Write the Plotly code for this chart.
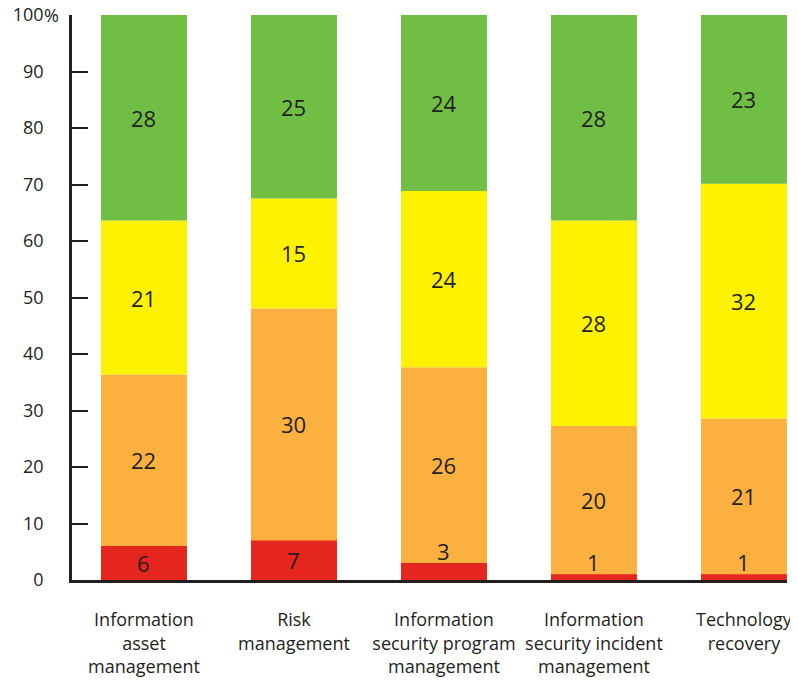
import plotly.graph_objects as go

categories = ["Information<br>asset<br>management", "Risk<br>management",
              "Information<br>security program<br>management",
              "Information<br>security incident<br>management", "Technology<br>recovery"]
red_vals = [6, 7, 3, 1, 1]
orange_vals = [22, 30, 26, 20, 21]
yellow_vals = [21, 15, 24, 28, 32]
green_vals = [28, 25, 24, 28, 23]
y_ticks = [0, 10, 20, 30, 40, 50, 60, 70, 80, 90, 100]
y_ticktext = ["0", "10", "20", "30", "40", "50", "60", "70", "80", "90", "100"]

RED, ORANGE, YELLOW, GREEN = "#e5261e", "#fbb040", "#fff200", "#70bf44"
INK = "#231f20"
FONT = "Open Sans"

n = len(categories)
totals = [red_vals[i] + orange_vals[i] + yellow_vals[i] + green_vals[i] for i in range(n)]
cum_orange = [(red_vals[i] + orange_vals[i]) / totals[i] * 100 for i in range(n)]
cum_yellow = [(red_vals[i] + orange_vals[i] + yellow_vals[i]) / totals[i] * 100 for i in range(n)]
green_pct = [100 - c for c in cum_yellow]
yellow_pct = [cum_yellow[i] - cum_orange[i] for i in range(n)]
# red segment as drawn in the source (count on the % scale, overlaid on orange)
red_h = red_vals

x = list(range(n))
fig = go.Figure()
bar_w = 0.573
fig.add_bar(x=x, y=cum_orange, base=[0] * n, marker_color=ORANGE, width=bar_w,
            marker_line_width=0, hoverinfo="skip")
fig.add_bar(x=x, y=yellow_pct, base=cum_orange, marker_color=YELLOW, width=bar_w,
            marker_line_width=0, hoverinfo="skip")
fig.add_bar(x=x, y=green_pct, base=cum_yellow, marker_color=GREEN, width=bar_w,
            marker_line_width=0, hoverinfo="skip")
fig.add_bar(x=x, y=red_h, base=[0] * n, marker_color=RED, width=bar_w,
            marker_line_width=0, hoverinfo="skip")

ann = []
lab_font = dict(family=FONT, size=22, color=INK)
for i in range(n):
    ann.append(dict(x=i, y=(cum_yellow[i] + 100) / 2, text=str(green_vals[i]),
                    showarrow=False, font=lab_font, xref="x", yref="y"))
    ann.append(dict(x=i, y=(cum_orange[i] + cum_yellow[i]) / 2, text=str(yellow_vals[i]),
                    showarrow=False, font=lab_font, xref="x", yref="y"))
    ann.append(dict(x=i, y=(red_h[i] + cum_orange[i]) / 2, text=str(orange_vals[i]),
                    showarrow=False, font=lab_font, xref="x", yref="y"))
    if red_h[i] >= 5:
        ann.append(dict(x=i, y=red_h[i] / 2, text=str(red_vals[i]),
                        showarrow=False, font=lab_font, xref="x", yref="y"))
    else:
        ann.append(dict(x=i, y=red_h[i], text=str(red_vals[i]), yanchor="bottom",
                        yshift=-5, showarrow=False, font=lab_font, xref="x", yref="y"))
ann.append(dict(x=0, y=100, xref="paper", yref="y", text="%", xanchor="left",
                xshift=-30, showarrow=False, font=dict(family=FONT, size=18, color=INK)))

# the page body has an 8px margin; size the figure to fit inside the window
fig.update_layout(
    barmode="overlay",
    width=790, height=677,
    margin=dict(l=64, r=11, t=7, b=105),
    paper_bgcolor="white", plot_bgcolor="white",
    showlegend=False,
    annotations=ann,
    font=dict(family=FONT, color=INK),
    xaxis=dict(range=[-0.48, 4.287], tickvals=x, ticktext=categories,
               showline=True, linecolor=INK, linewidth=2.5, ticks="",
               showgrid=False, zeroline=False, automargin=False,
               ticklabelstandoff=22, ticklabeloverflow="allow",
               tickfont=dict(family=FONT, size=18, color=INK)),
    yaxis=dict(range=[0, 100], tickvals=y_ticks, ticktext=y_ticktext,
               showline=True, linecolor=INK, linewidth=2.5, ticks="inside",
               ticklen=16, tickwidth=2, tickcolor=INK, showgrid=False, zeroline=False,
               ticklabelstandoff=22, automargin=False, ticklabeloverflow="allow",
               tickfont=dict(family=FONT, size=18, color=INK)),
)
fig.write_html("out.html")
